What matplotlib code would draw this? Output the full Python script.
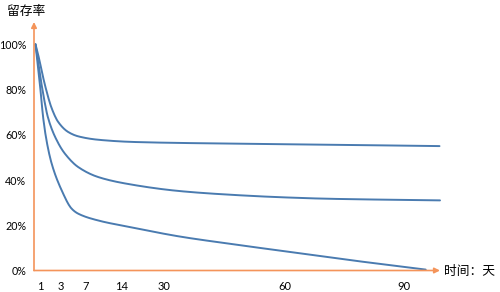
import numpy as np
import matplotlib.pyplot as plt

# x is a position along the drawn time axis (not linear in days), y is retention %
day_labels = ['1', '3', '7', '14', '30', '60', '90']
day_pos = [6.7, 26.7, 52, 87.7, 130, 251, 370.3]

top_x = [1.5, 4.3, 11, 17.7, 24.3, 34.3, 44.3, 64.3, 101, 196, 296, 405.5]
top_y = [100, 95.1, 81.9, 71.7, 65.6, 61.2, 59.3, 57.8, 56.8, 56.1, 55.6, 55.0]

mid_x = [1.5, 7.7, 14.3, 24, 31, 44.3, 64.3, 96, 146, 196, 246, 296, 406]
mid_y = [100, 81.9, 67.1, 56.5, 51.6, 45.7, 41.3, 38.1, 35.1, 33.5, 32.4, 31.7, 31.0]

low_x = [1.5, 6, 9.3, 12.5, 17.7, 27.7, 37.7, 44.3, 64.3, 96, 146, 196, 239, 316, 391.7]
low_y = [100, 81.9, 67.1, 57.5, 47.2, 35.4, 27.3, 25.1, 22.1, 19.2, 15.0, 11.8, 9.2, 4.6, 0.4]

y_ticks = [0, 20, 40, 60, 80, 100]

orange = '#F4945A'
blue = '#4A7BB0'
cjk = ['Noto Sans CJK SC', 'DejaVu Sans']


def smooth(xs, ys, n=400):
    # monotone cubic (Fritsch-Carlson) just for drawing a smooth line through the read points
    x = np.asarray(xs, float)
    y = np.asarray(ys, float)
    h = np.diff(x)
    d = np.diff(y) / h
    m = np.zeros_like(y)
    m[0], m[-1] = d[0], d[-1]
    for k in range(1, len(x) - 1):
        if d[k-1] * d[k] > 0:
            w1 = 2*h[k] + h[k-1]
            w2 = h[k] + 2*h[k-1]
            m[k] = (w1 + w2) / (w1/d[k-1] + w2/d[k])
    xx = np.linspace(x[0], x[-1], n)
    i = np.clip(np.searchsorted(x, xx) - 1, 0, len(x) - 2)
    t = (xx - x[i]) / h[i]
    h00 = 2*t**3 - 3*t**2 + 1
    h10 = t**3 - 2*t**2 + t
    h01 = -2*t**3 + 3*t**2
    h11 = t**3 - t**2
    yy = h00*y[i] + h10*h[i]*m[i] + h01*y[i+1] + h11*h[i]*m[i+1]
    return xx, yy


fig = plt.figure(figsize=(5, 2.92), dpi=100)
ax = fig.add_axes([34/500, 21.5/292, 406/500, 248.5/292])
ax.set_xlim(0, 406)
ax.set_ylim(0, 248.5/226.2*100)

for xs, ys in [(top_x, top_y), (mid_x, mid_y), (low_x, low_y)]:
    sx, sy = smooth(xs, ys)
    ax.plot(sx, sy, color=blue, lw=1.4, solid_capstyle='round', clip_on=False)

for s in ax.spines.values():
    s.set_visible(False)

# axis arrows
arr = dict(arrowstyle='-|>', color=orange, lw=1.2, mutation_scale=8, shrinkA=0, shrinkB=0)
ax.annotate('', xy=(1, 0), xytext=(0, 0), xycoords='axes fraction', arrowprops=arr)
ax.annotate('', xy=(0, 1), xytext=(0, 0), xycoords='axes fraction', arrowprops=arr)

ax.set_xticks(day_pos)
ax.set_xticklabels(day_labels, fontfamily='Lato', fontsize=8)
ax.set_yticks(y_ticks)
ax.set_yticklabels([f'{v}%' for v in y_ticks], fontfamily='Lato', fontsize=7.7)
ax.tick_params(axis='x', length=0, pad=7.5)
ax.tick_params(axis='y', length=0, pad=5.5)

fig.text(6.7/500, 1 - 12/292, '留存率', family=cjk, fontsize=9.2, va='center', ha='left')
fig.text(444/500, 1 - 272/292, '时间：天', family=cjk, fontsize=9.2, va='center', ha='left')

fig.savefig('out.png', dpi=100)
